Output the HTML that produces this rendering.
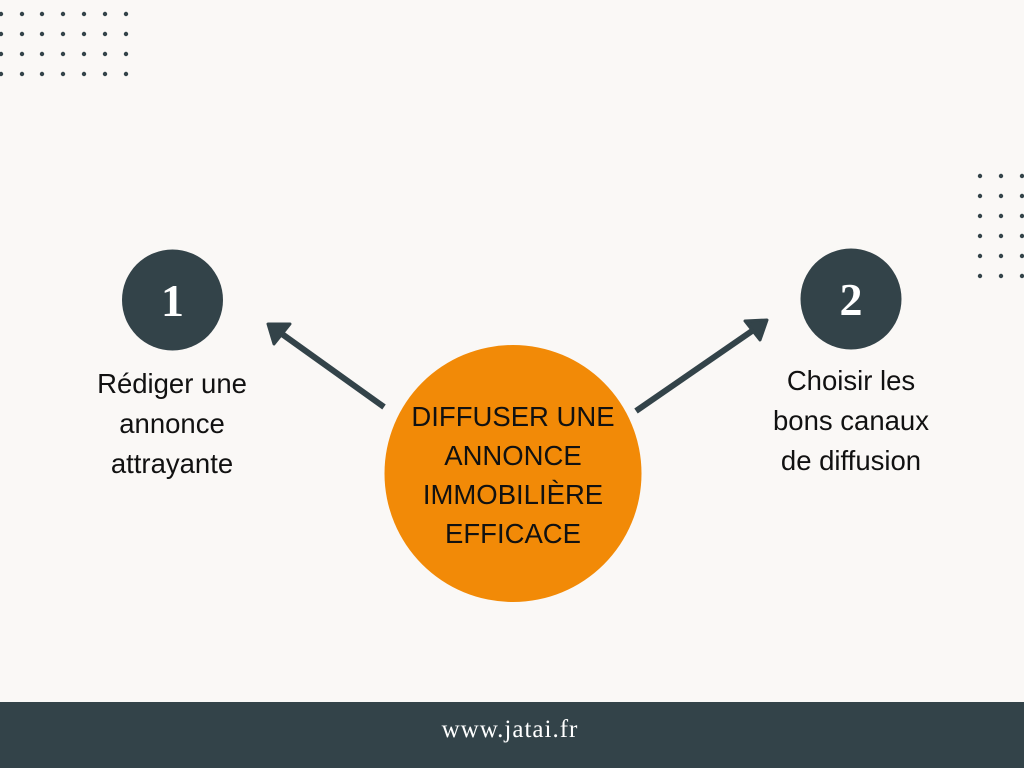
<!DOCTYPE html>
<html><head><meta charset="utf-8"><style>
html,body{margin:0;padding:0}
body{width:1024px;height:768px;background:#faf8f6;position:relative;overflow:hidden;font-family:"Liberation Sans",sans-serif}
.t{position:absolute;text-align:center;color:#111;white-space:nowrap}
</style></head><body>
<svg width="1024" height="768" style="position:absolute;left:0;top:0">
<g fill="#334349">
<circle cx="1" cy="14" r="2.2"/><circle cx="22" cy="14" r="2.2"/><circle cx="42" cy="14" r="2.2"/><circle cx="63" cy="14" r="2.2"/><circle cx="84" cy="14" r="2.2"/><circle cx="105" cy="14" r="2.2"/><circle cx="126" cy="14" r="2.2"/>
<circle cx="1" cy="34" r="2.2"/><circle cx="22" cy="34" r="2.2"/><circle cx="42" cy="34" r="2.2"/><circle cx="63" cy="34" r="2.2"/><circle cx="84" cy="34" r="2.2"/><circle cx="105" cy="34" r="2.2"/><circle cx="126" cy="34" r="2.2"/>
<circle cx="1" cy="54" r="2.2"/><circle cx="22" cy="54" r="2.2"/><circle cx="42" cy="54" r="2.2"/><circle cx="63" cy="54" r="2.2"/><circle cx="84" cy="54" r="2.2"/><circle cx="105" cy="54" r="2.2"/><circle cx="126" cy="54" r="2.2"/>
<circle cx="1" cy="74" r="2.2"/><circle cx="22" cy="74" r="2.2"/><circle cx="42" cy="74" r="2.2"/><circle cx="63" cy="74" r="2.2"/><circle cx="84" cy="74" r="2.2"/><circle cx="105" cy="74" r="2.2"/><circle cx="126" cy="74" r="2.2"/>
<circle cx="980" cy="176" r="2.2"/><circle cx="1001" cy="176" r="2.2"/><circle cx="1022" cy="176" r="2.2"/>
<circle cx="980" cy="196" r="2.2"/><circle cx="1001" cy="196" r="2.2"/><circle cx="1022" cy="196" r="2.2"/>
<circle cx="980" cy="216" r="2.2"/><circle cx="1001" cy="216" r="2.2"/><circle cx="1022" cy="216" r="2.2"/>
<circle cx="980" cy="236" r="2.2"/><circle cx="1001" cy="236" r="2.2"/><circle cx="1022" cy="236" r="2.2"/>
<circle cx="980" cy="256" r="2.2"/><circle cx="1001" cy="256" r="2.2"/><circle cx="1022" cy="256" r="2.2"/>
<circle cx="980" cy="276" r="2.2"/><circle cx="1001" cy="276" r="2.2"/><circle cx="1022" cy="276" r="2.2"/>
</g>
<circle cx="172.5" cy="300" r="50.5" fill="#334349"/>
<circle cx="851" cy="299" r="50.5" fill="#334349"/>
<circle cx="513" cy="473.5" r="128.5" fill="#f28a07"/>
<g stroke="#334349" stroke-width="6" stroke-linecap="butt">
<line x1="384" y1="407" x2="282" y2="334"/>
<line x1="636" y1="411" x2="752" y2="331"/>
</g>
<g fill="#334349" stroke="#334349" stroke-width="3" stroke-linejoin="round">
<polygon points="268,324 290,324 274,344"/>
<polygon points="767,320 745,321 760,340"/>
</g>
<rect x="0" y="702" width="1024" height="66" fill="#334349"/>
<text x="172.5" y="316" text-anchor="middle" fill="#fff" font-family="Liberation Serif,serif" font-size="46" font-weight="bold">1</text>
<text x="851" y="315" text-anchor="middle" fill="#fff" font-family="Liberation Serif,serif" font-size="46" font-weight="bold">2</text>
<text x="510" y="737" text-anchor="middle" fill="#fff" font-family="Liberation Serif,serif" font-size="25" letter-spacing="1">www.jatai.fr</text>
</svg>
<div class="t" style="left:22px;width:300px;top:364px;font-size:27.5px;line-height:40px">Rédiger une<br>annonce<br>attrayante</div>
<div class="t" style="left:701px;width:300px;top:361px;font-size:27.5px;line-height:40px">Choisir les<br>bons canaux<br>de diffusion</div>
<div class="t" style="left:363px;width:300px;top:397px;font-size:27.5px;line-height:39px">DIFFUSER UNE<br>ANNONCE<br>IMMOBILIÈRE<br>EFFICACE</div>
</body></html>
